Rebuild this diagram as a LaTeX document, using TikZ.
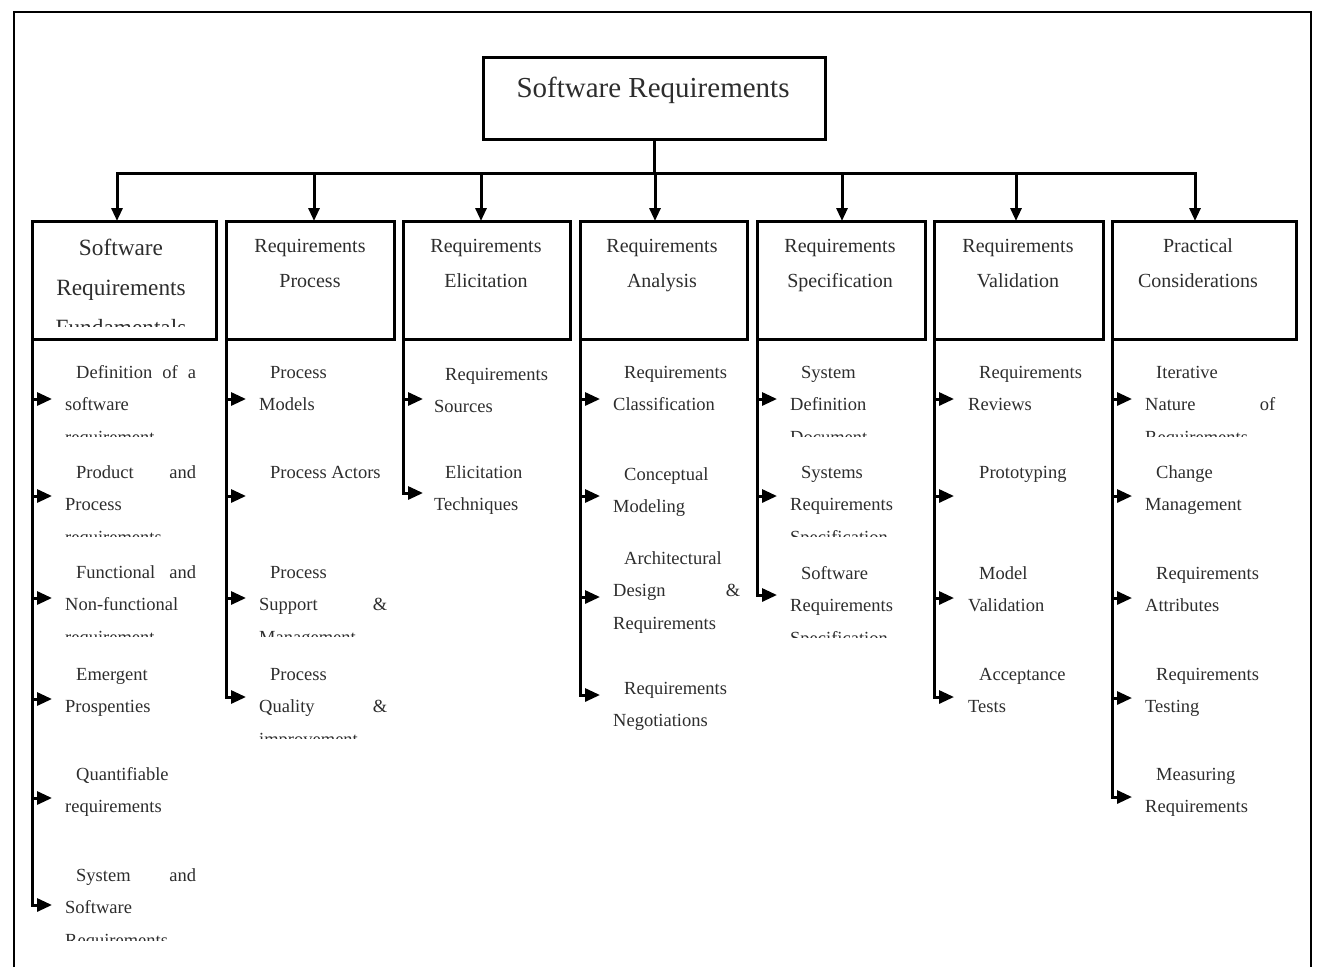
\documentclass[tikz,border=0pt]{standalone}
\usepackage{fontspec}
\setmainfont{Liberation Serif}
\usetikzlibrary{arrows.meta}
\definecolor{txt}{RGB}{45,45,45}
\newcommand\ind{\hspace*{11pt}}
\newcommand\jl[1]{\makebox[\linewidth][s]{#1}}
\newcommand\itm[5]{\node[itm] (#1) at (#2,#3) {\parbox[t]{#4pt}{#5}};}
\newcommand\citm[6]{\begin{scope}\clip (#2-8,#3-30) rectangle (#2+#4+8,#6-3);
  \node[itm] (#1) at (#2,#3) {\parbox[t]{#4pt}{#5}};\end{scope}}
\begin{document}
\begin{tikzpicture}[x=1pt,y=-1pt,
  ln/.style={line width=3pt,black,line cap=rect},
  arr/.style={line width=3pt,-{Triangle[length=15pt,width=13pt]}},
  darr/.style={line width=3pt,-{Triangle[length=13pt,width=11pt]}},
  hbox/.style={draw,line width=3pt,minimum height=118pt,inner sep=0pt,outer sep=0pt},
  itm/.style={anchor=base west,inner sep=0pt,text=txt,font=\fontsize{18.5}{32.5}\selectfont},
  htxt/.style={anchor=base,inner sep=0pt,text=txt,font=\fontsize{20}{35}\selectfont},
]
\useasboundingbox (0,0) rectangle (1319,967);
% outer frame
\draw[line width=2.5pt] (14,967) -- (14,12) -- (1311,12) -- (1311,967);

% root
\node[draw,line width=3pt,minimum width=342pt,minimum height=82pt,inner sep=0pt,outer sep=0pt] (root) at (654,98) {};
\node[anchor=base,inner sep=0pt,text=txt,font=\fontsize{29}{35}\selectfont] (roott) at (653,97) {Software Requirements};

% header boxes
\node[hbox,minimum width=184pt] (b1) at (124,280) {};
\node[hbox,minimum width=168pt] (b2) at (310,280) {};
\node[hbox,minimum width=167pt] (b3) at (486.5,280) {};
\node[hbox,minimum width=167pt] (b4) at (663.5,280) {};
\node[hbox,minimum width=168pt] (b5) at (841,280) {};
\node[hbox,minimum width=169pt] (b6) at (1018.5,280) {};
\node[hbox,minimum width=184pt] (b7) at (1204,280) {};

% header texts
\begin{scope}
\clip (35,224) rectangle (213,326);
\node[anchor=base,inner sep=0pt,text=txt,font=\fontsize{23.3}{40}\selectfont] (b1t) at (121,255)
  {\parbox[t]{180pt}{\centering Software\\Requirements\\Fundamentals}};
\end{scope}
\node[htxt] (b2t) at (310,252) {\parbox[t]{160pt}{\centering Requirements\\Process}};
\node[htxt] (b3t) at (486,252) {\parbox[t]{160pt}{\centering Requirements\\Elicitation}};
\node[htxt] (b4t) at (662,252) {\parbox[t]{160pt}{\centering Requirements\\Analysis}};
\node[htxt] (b5t) at (840,252) {\parbox[t]{160pt}{\centering Requirements\\Specification}};
\node[htxt] (b6t) at (1018,252) {\parbox[t]{160pt}{\centering Requirements\\Validation}};
\node[htxt] (b7t) at (1198,252) {\parbox[t]{160pt}{\centering Practical\\Considerations}};

% bus and down arrows
\coordinate (busL) at (117,173);
\coordinate (busR) at (1195,173);
\draw[ln] (root.south) -- (root.south |- busL);
\draw[ln] (busL) -- (busR);
\foreach \b/\x in {b1/117,b2/314,b3/481,b4/655,b5/842,b6/1016,b7/1195}
  \draw[darr] (\x,173) -- (\b.north -| \x,0);

% stems and branch arrows
\draw[ln] (b1.south west) -- (b1.south west |- 0,905);
\foreach \y in {399,496,598,699,798,905} \draw[arr] (b1.south west |- 0,\y) -- ++(20,0);
\draw[ln] (b2.south west) -- (b2.south west |- 0,697);
\foreach \y in {399,496,598,697} \draw[arr] (b2.south west |- 0,\y) -- ++(20,0);
\draw[ln] (b3.south west) -- (b3.south west |- 0,493);
\foreach \y in {399,493} \draw[arr] (b3.south west |- 0,\y) -- ++(20,0);
\draw[ln] (b4.south west) -- (b4.south west |- 0,695);
\foreach \y in {399,496,597,695} \draw[arr] (b4.south west |- 0,\y) -- ++(20,0);
\draw[ln] (b5.south west) -- (b5.south west |- 0,595);
\foreach \y in {399,496,595} \draw[arr] (b5.south west |- 0,\y) -- ++(20,0);
\draw[ln] (b6.south west) -- (b6.south west |- 0,697);
\foreach \y in {399,496,598,697} \draw[arr] (b6.south west |- 0,\y) -- ++(20,0);
\draw[ln] (b7.south west) -- (b7.south west |- 0,797);
\foreach \y in {399,496,598,698,797} \draw[arr] (b7.south west |- 0,\y) -- ++(20,0);

% column 1 items
\citm{c1i1}{65}{378}{131}{\jl{\ind Definition of a}\\software\\requirement}{439}
\citm{c1i2}{65}{478}{131}{\jl{\ind Product and}\\Process\\requirements}{539}
\citm{c1i3}{65}{578}{131}{\jl{\ind Functional and}\\Non-functional\\requirement}{639}
\itm{c1i4}{65}{680}{131}{\ind Emergent\\Prospenties}
\itm{c1i5}{65}{780}{131}{\ind Quantifiable\\requirements}
\citm{c1i6}{65}{881}{131}{\jl{\ind System and}\\Software\\Requirements}{943}

% column 2 items
\itm{c2i1}{259}{378}{128}{\ind Process\\Models}
\itm{c2i2}{259}{478}{128}{\ind Process Actors}
\citm{c2i3}{259}{578}{128}{\ind Process\\\jl{Support \&}\\Management}{639}
\citm{c2i4}{259}{680}{128}{\ind Process\\\jl{Quality \&}\\improvement}{741}

% column 3 items
\itm{c3i1}{434}{380}{128}{\ind Requirements\\Sources}
\itm{c3i2}{434}{478}{128}{\ind Elicitation\\Techniques}

% column 4 items
\itm{c4i1}{613}{378}{127}{\ind Requirements\\Classification}
\itm{c4i2}{613}{480}{127}{\ind Conceptual\\Modeling}
\itm{c4i3}{613}{564}{127}{\ind Architectural\\\jl{Design \&}\\Requirements}
\itm{c4i4}{613}{694}{127}{\ind Requirements\\Negotiations}

% column 5 items
\citm{c5i1}{790}{378}{128}{\ind System\\Definition\\Document}{439}
\citm{c5i2}{790}{478}{128}{\ind Systems\\Requirements\\Specification}{539}
\citm{c5i3}{790}{579}{128}{\ind Software\\Requirements\\Specification}{640}

% column 6 items
\itm{c6i1}{968}{378}{128}{\ind Requirements\\Reviews}
\itm{c6i2}{968}{478}{128}{\ind Prototyping}
\itm{c6i3}{968}{579}{128}{\ind Model\\Validation}
\itm{c6i4}{968}{680}{128}{\ind Acceptance\\Tests}

% column 7 items
\citm{c7i1}{1145}{378}{130}{\ind Iterative\\\jl{Nature of}\\Requirements}{439}
\itm{c7i2}{1145}{478}{130}{\ind Change\\Management}
\itm{c7i3}{1145}{579}{130}{\ind Requirements\\Attributes}
\itm{c7i4}{1145}{680}{130}{\ind Requirements\\Testing}
\itm{c7i5}{1145}{780}{130}{\ind Measuring\\Requirements}
\end{tikzpicture}
\end{document}
